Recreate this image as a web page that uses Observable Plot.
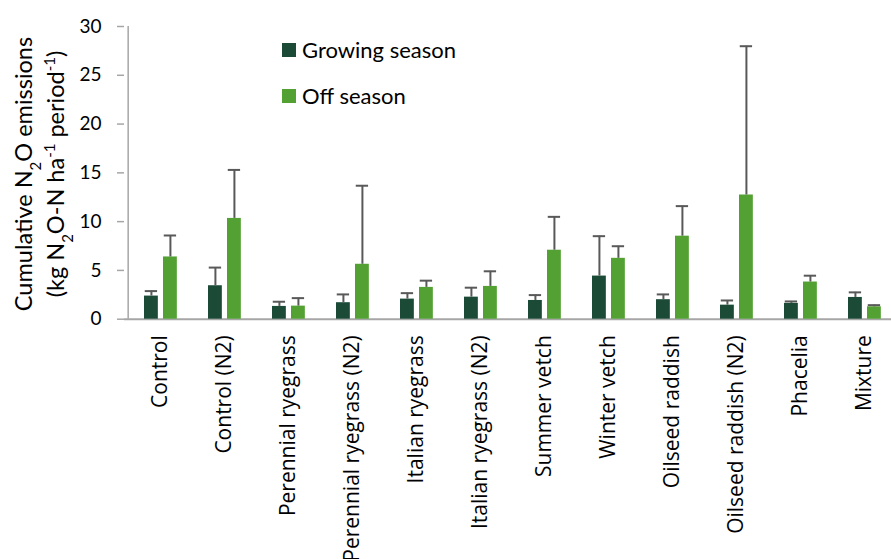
<!DOCTYPE html>
<html>
<head>
<meta charset="utf-8">
<script src="https://cdn.jsdelivr.net/npm/d3@7"></script>
<script src="https://cdn.jsdelivr.net/npm/@observablehq/plot@0.6"></script>
<style>
  html, body { margin: 0; padding: 0; background: #fff; overflow: hidden; }
  #chart svg { display: block; }
  #chart g[aria-label="x-axis tick label"] { font-family: "Open Sans", sans-serif; font-size: 21px; }
  #chart g[aria-label="y-axis tick label"] { font-family: Lato, sans-serif; font-size: 19px; }
</style>
</head>
<body>
<div id="chart"></div>
<script>
// Cumulative N2O emissions per cover-crop treatment (mean and upper error)
const categories = [
  "Control", "Control (N2)", "Perennial ryegrass", "Perennial ryegrass (N2)",
  "Italian ryegrass", "Italian ryegrass (N2)", "Summer vetch", "Winter vetch",
  "Oilseed raddish", "Oilseed raddish (N2)", "Phacelia", "Mixture"
];
const seasons = ["Growing season", "Off season"];
const growingMean = [2.37, 3.43, 1.31, 1.69, 2.06, 2.26, 1.92, 4.42, 2.00, 1.44, 1.62, 2.23];
const growingErr  = [0.51, 1.86, 0.48, 0.85, 0.61, 0.97, 0.55, 4.09, 0.54, 0.48, 0.20, 0.52];
const offMean     = [6.38, 10.33, 1.34, 5.63, 3.26, 3.36, 7.07, 6.24, 8.51, 12.73, 3.81, 1.27];
const offErr      = [2.20, 4.97, 0.82, 8.05, 0.69, 1.55, 3.42, 1.24, 3.08, 15.25, 0.65, 0.17];
const yTicks = [0, 5, 10, 15, 20, 25, 30];
const seasonColors = ["#1b4a37", "#52a132"];

const rows = categories.flatMap((c, i) => [
  {category: c, season: seasons[0], value: growingMean[i], err: growingErr[i]},
  {category: c, season: seasons[1], value: offMean[i], err: offErr[i]}
]);

// layout
const W = 891, H = 559;
const xLeft = 124, xRight = 900;          // plot area runs slightly past the right edge
const step = (xRight - xLeft) / categories.length;
const barW = 14.5, capW = 13;
const barStart = [16, 35];                // offset of each season's bar inside a category band
const axisGray = "#a6a6a6", errGray = "#595959";

const seasonMarks = seasons.flatMap((s, k) => {
  const data = rows.filter(d => d.season === s);
  const x0 = barStart[k];
  const mid = x0 + barW / 2;
  return [
    Plot.barY(data, {
      x: "category", y: "value", fill: seasonColors[k],
      insetLeft: x0, insetRight: step - x0 - barW
    }),
    Plot.ruleX(data, {
      x: "category", y1: "value", y2: d => d.value + d.err,
      dx: mid - step / 2, stroke: errGray, strokeWidth: 2
    }),
    Plot.tickY(data, {
      x: "category", y: d => d.value + d.err,
      insetLeft: mid - capW / 2, insetRight: step - mid - capW / 2,
      stroke: errGray, strokeWidth: 2
    })
  ];
});

const chart = Plot.plot({
  width: W,
  height: H,
  marginLeft: xLeft,
  marginRight: 0,
  marginTop: 26,
  marginBottom: 240.3,
  style: {background: "#fff", color: "#000", overflow: "hidden"},
  x: {domain: categories, range: [xLeft, xRight], padding: 0},
  y: {domain: [0, 30]},
  marks: [
    Plot.ruleY([0], {stroke: axisGray, strokeWidth: 2}),
    Plot.ruleX([categories[0]], {dx: -step / 2, y1: 0, y2: 30, stroke: axisGray, strokeWidth: 1.5}),
    Plot.axisY({
      ticks: yTicks, tickSize: 7, tickPadding: 16, label: null,
      stroke: axisGray, strokeWidth: 1.5, fill: "#000"
    }),
    Plot.axisX({
      tickRotate: -90, tickSize: 0, tickPadding: 16, label: null, fill: "#000"
    }),
    ...seasonMarks
  ]
});

document.getElementById("chart").append(chart);

// y-axis title with sub- and superscripts, and the in-plot legend
const svg = d3.select(chart);
const titleFont = "Lato";
const titleLines = [
  {x: 32, parts: [["Cumulative N", null], ["2", "sub"], ["O emissions", null]]},
  {x: 64, parts: [["(kg N", null], ["2", "sub"], ["O-N ha", null], ["-1", "super"], [" period", null], ["-1", "super"], [")", null]]}
];
titleLines.forEach(line => {
  const t = svg.append("text")
    .attr("transform", `translate(${line.x},174) rotate(-90)`)
    .attr("text-anchor", "middle")
    .attr("font-family", titleFont)
    .attr("font-size", 23.5)
    .attr("fill", "#000");
  line.parts.forEach(([txt, shift]) => {
    const ts = t.append("tspan").text(txt);
    if (shift) ts.attr("baseline-shift", shift).attr("font-size", 15);
  });
});

const legend = svg.append("g")
  .attr("font-family", titleFont)
  .attr("font-size", 22)
  .attr("text-anchor", "start");
seasons.forEach((s, k) => {
  const y = 43 + k * 46;
  legend.append("rect").attr("x", 282).attr("y", y).attr("width", 14).attr("height", 14)
    .attr("fill", seasonColors[k]);
  legend.append("text").attr("x", 302).attr("y", y + 14.5).attr("fill", "#000").text(s);
});
</script>
</body>
</html>
